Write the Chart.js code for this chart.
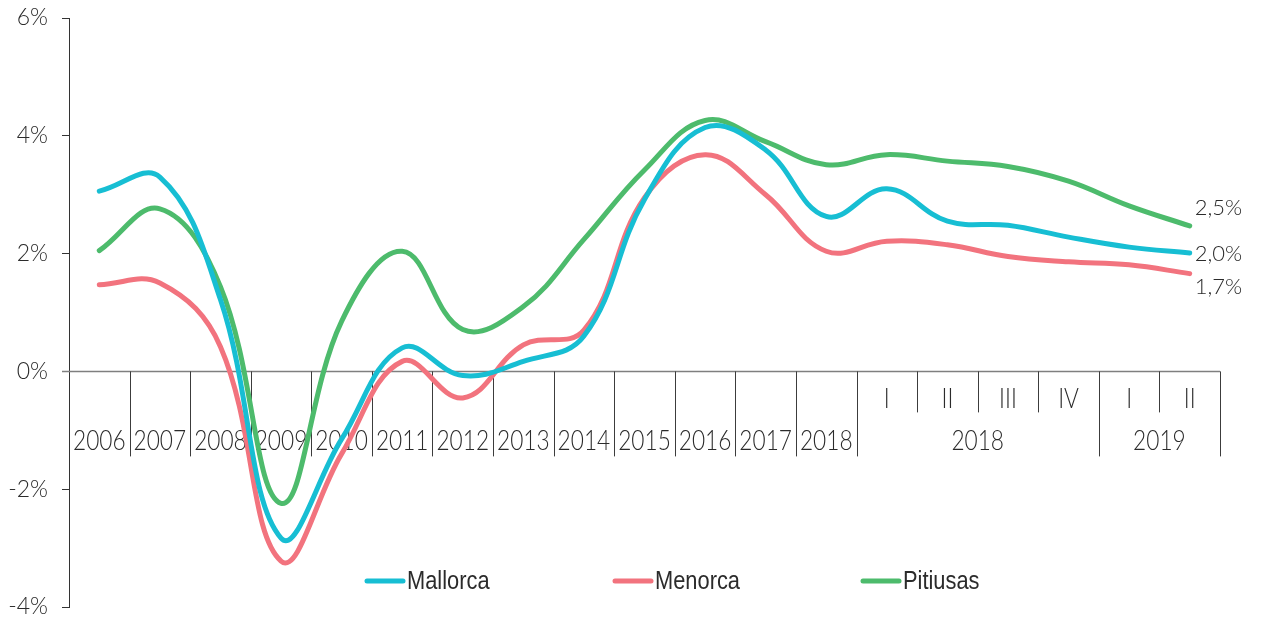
<!DOCTYPE html>
<html lang="es">
<head>
  <meta charset="utf-8">
  <title>Mallorca, Menorca, Pitiusas</title>
  <script src="https://cdn.jsdelivr.net/npm/chart.js@4.4.1/dist/chart.umd.min.js"></script>
  <style>
    html, body { margin: 0; padding: 0; background: #fff; }
    .chart-container { position: relative; width: 1261px; height: 629px; }
  </style>
</head>
<body>
  <div class="chart-container">
    <canvas id="grafico" width="1261" height="629"></canvas>
  </div>

  <script>
    // Datos (% variación)
    const anios = ['2006', '2007', '2008', '2009', '2010', '2011', '2012', '2013', '2014', '2015', '2016', '2017', '2018'];
    const trimestres = ['I', 'II', 'III', 'IV', 'I', 'II'];
    const gruposTrimestres = ['2018', '2018', '2018', '2018', '2019', '2019'];
    const categorias = anios.concat(trimestres.map((t, i) => gruposTrimestres[i] + ' ' + t));

    const mallorca = [3.06, 3.30, 1.22, -2.83, -1.15, 0.40, -0.07, 0.17, 0.60, 2.92, 4.14, 3.76, 2.63, 3.10, 2.55, 2.48, 2.28, 2.11, 2.01];
    const menorca  = [1.47, 1.50, 0.42, -3.22, -1.40, 0.17, -0.45, 0.45, 0.70, 2.95, 3.68, 3.00, 2.04, 2.21, 2.15, 1.95, 1.86, 1.81, 1.66];
    const pitiusas = [2.05, 2.76, 1.44, -2.24, 0.85, 2.04, 0.71, 1.10, 2.24, 3.42, 4.26, 3.90, 3.51, 3.68, 3.57, 3.48, 3.23, 2.81, 2.47];

    const ticksY = [-4, -2, 0, 2, 4, 6];

    const colorTexto = '#2b2b2b';
    const fuente = 'Lato, "Open Sans", sans-serif';

    // eje X a la altura del 0% con años, trimestres y grupos
    const ejeCategorias = {
      id: 'ejeCategorias',
      beforeDatasetsDraw(chart) {
        const { ctx, scales: { x, y } } = chart;
        const y0 = y.getPixelForValue(0);
        const n = categorias.length;
        const paso = (x.getPixelForValue(n - 1) - x.getPixelForValue(0)) / (n - 1);
        const borde = i => x.getPixelForValue(0) - paso / 2 + i * paso;
        const nA = anios.length;

        ctx.save();
        // línea del eje
        ctx.strokeStyle = '#7f7f7f';
        ctx.lineWidth = 1.5;
        ctx.beginPath();
        ctx.moveTo(x.left - 7, y0);
        ctx.lineTo(borde(n), y0);
        ctx.stroke();

        // separadores
        ctx.strokeStyle = '#3c3c3c';
        ctx.lineWidth = 1;
        for (let i = 1; i <= n; i++) {
          let largo = 85;
          if (i > nA && i < n && gruposTrimestres[i - nA - 1] === gruposTrimestres[i - nA]) largo = 41;
          const px = Math.round(borde(i)) + 0.5;
          ctx.beginPath();
          ctx.moveTo(px, y0);
          ctx.lineTo(px, y0 + largo);
          ctx.stroke();
        }

        // textos
        ctx.fillStyle = colorTexto;
        ctx.textAlign = 'center';
        ctx.textBaseline = 'middle';
        ctx.font = '300 27px ' + fuente;
        const texto = (t, cx, cy) => {
          ctx.save();
          ctx.translate(cx, cy);
          ctx.scale(0.84, 1);
          ctx.fillText(t, 0, 0);
          ctx.restore();
        };
        anios.forEach((a, i) => texto(a, x.getPixelForValue(i), y0 + 70));
        trimestres.forEach((t, i) => texto(t, x.getPixelForValue(nA + i), y0 + 28));
        let inicio = 0;
        for (let i = 1; i <= gruposTrimestres.length; i++) {
          if (i === gruposTrimestres.length || gruposTrimestres[i] !== gruposTrimestres[inicio]) {
            const cx = (borde(nA + inicio) + borde(nA + i)) / 2;
            texto(gruposTrimestres[inicio], cx, y0 + 70);
            inicio = i;
          }
        }
        ctx.restore();
      }
    };

    // últimos valores y leyenda
    const etiquetasYLeyenda = {
      id: 'etiquetasYLeyenda',
      afterDatasetsDraw(chart) {
        const { ctx } = chart;
        const desplaz = [1, 13, -18];
        ctx.save();
        ctx.fillStyle = colorTexto;
        ctx.font = '300 22px ' + fuente;
        ctx.textAlign = 'left';
        ctx.textBaseline = 'middle';
        chart.data.datasets.forEach((ds, d) => {
          const meta = chart.getDatasetMeta(d);
          const p = meta.data[meta.data.length - 1];
          const v = ds.data[ds.data.length - 1];
          ctx.fillText(v.toFixed(1).replace('.', ',') + '%', p.x + 5, p.y + desplaz[d]);
        });

        // leyenda
        const yL = 581;
        let xL = 367;
        chart.data.datasets.forEach(ds => {
          ctx.strokeStyle = ds.borderColor;
          ctx.lineWidth = 5;
          ctx.lineCap = 'round';
          ctx.beginPath();
          ctx.moveTo(xL, yL);
          ctx.lineTo(xL + 36, yL);
          ctx.stroke();
          ctx.save();
          ctx.translate(xL + 40, yL);
          ctx.scale(0.84, 1);
          ctx.font = '26px "Liberation Sans", Arial, sans-serif';
          ctx.fillText(ds.label, 0, 1);
          ctx.restore();
          xL += 248;
        });
        ctx.restore();
      }
    };

    const ctx = document.getElementById('grafico');
    new Chart(ctx, {
      type: 'line',
      data: {
        labels: categorias,
        datasets: [
          { label: 'Mallorca', data: mallorca, borderColor: '#17BED3' },
          { label: 'Menorca', data: menorca, borderColor: '#F2737E' },
          { label: 'Pitiusas', data: pitiusas, borderColor: '#4DBB6C' }
        ]
      },
      options: {
        responsive: false,
        animation: false,
        devicePixelRatio: 1,
        layout: { padding: { top: 18, right: 41, bottom: 22, left: 0 } },
        elements: {
          point: { radius: 0, hoverRadius: 0 },
          line: { borderWidth: 5, tension: 0.4, fill: false, borderCapStyle: 'round' }
        },
        plugins: { legend: { display: false }, tooltip: { enabled: false } },
        scales: {
          x: { type: 'category', offset: true, display: false },
          y: {
            min: -4,
            max: 6,
            afterBuildTicks: s => { s.ticks = ticksY.map(v => ({ value: v })); },
            afterFit: s => { s.width = 69; s.paddingTop = 0; s.paddingBottom = 0; },
            ticks: {
              padding: 14,
              color: colorTexto,
              font: { family: fuente, size: 23, weight: '300' },
              callback: v => v + '%'
            },
            grid: { drawOnChartArea: false, drawTicks: true, tickLength: 7, color: '#333' },
            border: { display: true, color: '#333', width: 1 }
          }
        }
      },
      plugins: [ejeCategorias, etiquetasYLeyenda]
    });
  </script>
</body>
</html>
